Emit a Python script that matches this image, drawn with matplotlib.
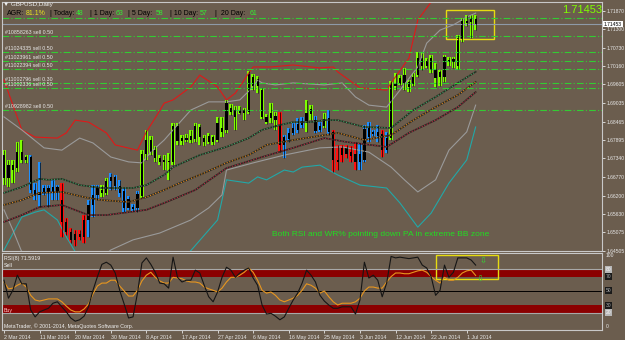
import numpy as np
import matplotlib
matplotlib.use("Agg")
import matplotlib.pyplot as plt
from matplotlib.patches import Rectangle

plt.rcParams['font.family'] = ['Liberation Sans', 'DejaVu Sans']

BG = '#6B5D4E'

# ---- daily candles GBPUSD, 2 Mar 2014 .. 3 Jul 2014 (bar index 0..106)
opens = [1.6744, 1.6674, 1.6713, 1.6704, 1.6753, 1.6729, 1.6738, 1.6637, 1.6622, 1.6631,
         1.6643, 1.6631, 1.6646, 1.6606, 1.6539, 1.6508, 1.6484, 1.6502, 1.6493, 1.6545,
         1.6591, 1.6622, 1.6637, 1.6628, 1.6664, 1.6677, 1.6649, 1.6634, 1.6582, 1.6579,
         1.6582, 1.6618, 1.6747, 1.6790, 1.6759, 1.6735, 1.6723, 1.6726, 1.6723, 1.6833,
         1.6787, 1.6796, 1.6790, 1.6793, 1.6830, 1.6796, 1.6784, 1.6799, 1.6790, 1.6827,
         1.6821, 1.6888, 1.6882, 1.6873, 1.6882, 1.6876, 1.6983, 1.6956, 1.6943, 1.6861,
         1.6858, 1.6864, 1.6836, 1.6775, 1.6793, 1.6812, 1.6821, 1.6836, 1.6848, 1.6870,
         1.6851, 1.6821, 1.6833, 1.6858, 1.6815, 1.6729, 1.6744, 1.6766, 1.6753, 1.6747,
         1.6723, 1.6729, 1.6830, 1.6808, 1.6815, 1.6808, 1.6759, 1.6796, 1.6965, 1.6962,
         1.6989, 1.6968, 1.6962, 1.6989, 1.7041, 1.7017, 1.7041, 1.7008, 1.6983, 1.6983,
         1.7035, 1.7029, 1.7017, 1.7097, 1.7155, 1.7152, 1.7161]
highs = [1.6759, 1.6729, 1.6729, 1.6784, 1.6790, 1.6744, 1.6744, 1.6658, 1.6723, 1.6652,
         1.6652, 1.6668, 1.6652, 1.6658, 1.6551, 1.6520, 1.6514, 1.6514, 1.6560, 1.6606,
         1.6652, 1.6652, 1.6652, 1.6674, 1.6689, 1.6683, 1.6668, 1.6643, 1.6618, 1.6594,
         1.6634, 1.6759, 1.6821, 1.6802, 1.6772, 1.6744, 1.6744, 1.6750, 1.6842, 1.6842,
         1.6805, 1.6808, 1.6821, 1.6842, 1.6839, 1.6805, 1.6812, 1.6805, 1.6861, 1.6861,
         1.6913, 1.6900, 1.6894, 1.6894, 1.6888, 1.7002, 1.6992, 1.6986, 1.6950, 1.6870,
         1.6903, 1.6876, 1.6876, 1.6805, 1.6827, 1.6842, 1.6858, 1.6861, 1.6913, 1.6897,
         1.6864, 1.6845, 1.6873, 1.6882, 1.6821, 1.6775, 1.6775, 1.6775, 1.6772, 1.6784,
         1.6781, 1.6836, 1.6845, 1.6821, 1.6836, 1.6821, 1.6815, 1.6971, 1.6995, 1.6989,
         1.7011, 1.6974, 1.6995, 1.7060, 1.7057, 1.7041, 1.7051, 1.7026, 1.7005, 1.7051,
         1.7044, 1.7044, 1.7112, 1.7164, 1.7173, 1.7173, 1.7173]
lows = [1.6652, 1.6646, 1.6658, 1.6692, 1.6720, 1.6720, 1.6628, 1.6606, 1.6585, 1.6622,
        1.6585, 1.6606, 1.6606, 1.6493, 1.6499, 1.6474, 1.6465, 1.6484, 1.6474, 1.6493,
        1.6554, 1.6606, 1.6615, 1.6622, 1.6637, 1.6637, 1.6615, 1.6569, 1.6576, 1.6572,
        1.6569, 1.6612, 1.6729, 1.6744, 1.6723, 1.6713, 1.6698, 1.6668, 1.6713, 1.6775,
        1.6775, 1.6784, 1.6781, 1.6784, 1.6775, 1.6772, 1.6778, 1.6775, 1.6784, 1.6799,
        1.6812, 1.6867, 1.6821, 1.6870, 1.6851, 1.6870, 1.6943, 1.6934, 1.6854, 1.6839,
        1.6842, 1.6821, 1.6753, 1.6735, 1.6784, 1.6805, 1.6812, 1.6827, 1.6815, 1.6851,
        1.6812, 1.6815, 1.6827, 1.6805, 1.6692, 1.6698, 1.6723, 1.6735, 1.6723, 1.6698,
        1.6698, 1.6723, 1.6784, 1.6802, 1.6784, 1.6738, 1.6750, 1.6790, 1.6943, 1.6959,
        1.6943, 1.6937, 1.6956, 1.6983, 1.7005, 1.7011, 1.6995, 1.6953, 1.6956, 1.6968,
        1.7017, 1.7011, 1.7008, 1.7090, 1.7140, 1.7103, 1.7127]
closes = [1.6674, 1.6713, 1.6698, 1.6753, 1.6729, 1.6738, 1.6637, 1.6622, 1.6631, 1.6643,
          1.6631, 1.6646, 1.6631, 1.6539, 1.6508, 1.6484, 1.6502, 1.6493, 1.6545, 1.6591,
          1.6622, 1.6643, 1.6628, 1.6664, 1.6677, 1.6649, 1.6628, 1.6582, 1.6609, 1.6585,
          1.6625, 1.6747, 1.6790, 1.6753, 1.6735, 1.6723, 1.6729, 1.6723, 1.6833, 1.6787,
          1.6796, 1.6790, 1.6802, 1.6833, 1.6799, 1.6784, 1.6802, 1.6784, 1.6842, 1.6815,
          1.6903, 1.6876, 1.6861, 1.6882, 1.6873, 1.6992, 1.6956, 1.6977, 1.6861, 1.6845,
          1.6873, 1.6851, 1.6775, 1.6799, 1.6812, 1.6827, 1.6839, 1.6848, 1.6873, 1.6885,
          1.6818, 1.6833, 1.6854, 1.6815, 1.6729, 1.6723, 1.6766, 1.6747, 1.6741, 1.6723,
          1.6747, 1.6824, 1.6799, 1.6815, 1.6802, 1.6759, 1.6796, 1.6965, 1.6956, 1.6980,
          1.6965, 1.6953, 1.6983, 1.7041, 1.7017, 1.7032, 1.7005, 1.6980, 1.6999, 1.7044,
          1.7029, 1.7038, 1.7103, 1.7155, 1.7149, 1.7161, 1.71453]
bar_colors = ("gggggg" "bbbbbbb" "rrrrrr" "bbb" "gg" "bbbbbbb"
              "ggggggggggggggggggggggggggggggg" "r" "bbbbb" "gg" "bb" "g" "b"
              "rrrrrr" "bbbbb" "r" "b" "gggggggggggggggggggg")

# ---- overlays (bar index, price)
bb_wide_up_i = [0, 4, 7, 12, 14, 16, 19, 23, 25, 30, 32, 34, 36, 38, 42, 44, 48, 50, 52, 55,
                56, 60, 65, 71, 74, 75, 80, 86, 87, 91, 93, 96, 97]
bb_wide_up = [1.6974, 1.6821, 1.6799, 1.6796, 1.6812, 1.6851, 1.6845, 1.6812, 1.6775, 1.6759,
              1.6815, 1.6858, 1.6903, 1.6913, 1.6953, 1.6989, 1.6953, 1.6913, 1.6934, 1.6995,
              1.7014, 1.7014, 1.7020, 1.7011, 1.7014, 1.6999, 1.6950, 1.6943, 1.6965, 1.7041,
              1.7158, 1.7213, 1.7240]
bb_up_i = [0, 4, 9, 13, 17, 20, 24, 28, 31, 33, 36, 38, 42, 46, 50, 53, 56, 57, 58, 61,
           65, 72, 76, 79, 82, 86, 89, 93, 95, 98, 101, 104, 106]
bb_up = [1.6861, 1.6821, 1.6766, 1.6759, 1.6796, 1.6781, 1.6738, 1.6723, 1.6720, 1.6753,
         1.6790, 1.6821, 1.6882, 1.6907, 1.6907, 1.6913, 1.6953, 1.6974, 1.6965, 1.6959,
         1.6965, 1.6959, 1.6965, 1.6922, 1.6897, 1.6891, 1.6943, 1.7014, 1.7087, 1.7127,
         1.7143, 1.7167, 1.7179]
bb_low_i = [0, 2, 4, 8, 15, 20, 24, 29, 35, 42, 46, 49, 50, 56, 63, 71, 76, 82, 87, 90,
            93, 97, 100, 104, 106]
bb_low = [1.6576, 1.6514, 1.6447, 1.6400, 1.6380, 1.6410, 1.6453, 1.6484, 1.6505, 1.6545,
          1.6582, 1.6622, 1.6698, 1.6720, 1.6744, 1.6766, 1.6769, 1.6753, 1.6707, 1.6668,
          1.6631, 1.6668, 1.6759, 1.6815, 1.6897]
bb_wide_low_i = [0, 4, 7, 9, 12, 14, 16, 20, 30, 40, 48, 50, 55, 57, 59, 63, 65, 67, 71, 75,
                 80, 86, 89, 93, 96, 100, 104, 106]
bb_wide_low = [1.6453, 1.6554, 1.6569, 1.6576, 1.6545, 1.6493, 1.6448, 1.6390, 1.6380, 1.6420,
               1.6545, 1.6668, 1.6658, 1.6677, 1.6668, 1.6698, 1.6692, 1.6707, 1.6713, 1.6683,
               1.6652, 1.6643, 1.6597, 1.6523, 1.6566, 1.6658, 1.6729, 1.6830]
ma_fast_i = [0, 4, 8, 10, 13, 17, 22, 25, 29, 32, 36, 38, 44, 50, 55, 58, 62, 65, 69, 72,
             75, 81, 87, 92, 97, 102, 106]
ma_fast = [1.6628, 1.6646, 1.6671, 1.6668, 1.6671, 1.6652, 1.6643, 1.6643, 1.6643, 1.6652,
           1.6683, 1.6707, 1.6744, 1.6769, 1.6796, 1.6821, 1.6836, 1.6845, 1.6845, 1.6851,
           1.6851, 1.6830, 1.6827, 1.6882, 1.6922, 1.6965, 1.6999]
ma_mid_i = [0, 4, 8, 13, 18, 22, 28, 32, 36, 40, 45, 50, 55, 59, 65, 72, 75, 81, 87, 92,
            97, 102, 106]
ma_mid = [1.6591, 1.6606, 1.6628, 1.6631, 1.6615, 1.6606, 1.6600, 1.6615, 1.6637, 1.6661,
          1.6689, 1.6720, 1.6744, 1.6775, 1.6790, 1.6805, 1.6812, 1.6790, 1.6805, 1.6851,
          1.6891, 1.6928, 1.6968]
ma_slow_i = [0, 4, 8, 13, 19, 23, 28, 32, 36, 43, 50, 58, 65, 72, 77, 86, 91, 97, 102, 106]
ma_slow = [1.6539, 1.6560, 1.6585, 1.6591, 1.6560, 1.6560, 1.6569, 1.6576, 1.6597, 1.6637,
           1.6704, 1.6738, 1.6766, 1.6796, 1.6784, 1.6769, 1.6812, 1.6851, 1.6891, 1.6937]

# ---- open sell orders
order_levels = [1.7164, 1.7109, 1.7060, 1.7032, 1.7008, 1.6965, 1.6950, 1.6882]
order_labels = ["", "#10858263 sell 0.50", "#11024335 sell 0.50", "#11023961 sell 0.50",
                "#11022394 sell 0.50", "#11002796 sell 0.30", "#11002336 sell 0.50",
                "#10928982 sell 0.50"]
bid = 1.71453

price_ticks = [1.71870, 1.71300, 1.70730, 1.70160, 1.69605, 1.69035, 1.68465, 1.67895,
               1.67340, 1.66770, 1.66200, 1.65630, 1.65075, 1.64505]

# ---- lower window: WR% (black) and RSI(8) (orange)
wr = [65, 40, 51, 72, 60, 60, 23.6, 14, 21, 23.6, 26, 33, 35, 28, 21, 12.5, 8, 10, 15, 28,
      51, 70, 87, 90, 86, 75, 51, 32, 12.5, 14, 47, 89, 96, 87, 76, 61, 60, 54, 97, 69,
      62.5, 65, 65, 79, 75, 58, 42, 35, 48.6, 69, 83, 79, 69, 75, 79, 82, 68, 58, 30.5, 18,
      19, 15, 10, 14, 26, 37.5, 47, 61, 79, 72, 62.5, 44, 36, 30.5, 26, 26, 28, 28, 28, 18,
      37.5, 90, 68, 72, 65, 42, 61, 98, 96, 97, 96, 95, 96, 97, 86, 82, 70, 44, 51, 86,
      69, 76, 96, 96, 96, 93, 86]
rsi = [62.5, 53, 54, 58, 61, 55.5, 44, 37.5, 36, 37.5, 39, 39, 39, 35, 29, 23.6, 21, 21, 25, 32,
       46, 57, 61, 61, 65, 65, 57, 50, 43, 43, 51, 64, 72, 76, 69, 64, 61, 61, 69, 68,
       67, 64, 62.5, 62.5, 61, 55.5, 53, 51, 48.6, 54, 62.5, 69, 69, 72, 76, 82, 76, 65, 51, 47,
       48.6, 44, 37.5, 35, 37.5, 40, 44, 51, 60, 58, 54, 47, 50, 42, 35, 30.5, 33, 33, 33, 35,
       40, 50, 55.5, 55.5, 54, 54, 62.5, 70, 75, 75, 74, 74, 76, 78, 79, 76, 70, 65, 61, 69,
       65, 65, 69, 75, 78, 79, 71.6]

date_idx = [0, 8, 16, 24, 32, 40, 48, 56, 64, 72, 80, 88, 96, 104]
date_labels = ["2 Mar 2014", "11 Mar 2014", "20 Mar 2014", "30 Mar 2014", "8 Apr 2014",
               "17 Apr 2014", "27 Apr 2014", "6 May 2014", "16 May 2014", "25 May 2014",
               "3 Jun 2014", "12 Jun 2014", "22 Jun 2014", "1 Jul 2014"]

stats_names = ["| Today:", "| 1 Day:", "| 5 Day:", "| 10 Day:", "|  20 Day:"]
stats_vals = ["48", "63", "58", "57", "61"]

fig = plt.figure(figsize=(6.25, 3.4), dpi=100, facecolor=BG)
ax = fig.add_axes([2 / 625, 1 - 251 / 340, 600 / 625, 249 / 340], facecolor=BG)
ax2 = fig.add_axes([2 / 625, 1 - 330 / 340, 600 / 625, 77 / 340], facecolor=BG)

x = np.arange(len(closes))
o = np.array(opens)
h = np.array(highs)
l = np.array(lows)
c = np.array(closes)
cmap = {'g': '#7FFF00', 'b': '#1E90FF', 'r': '#FF1010'}

# bands and averages
ax.plot(bb_wide_up_i, bb_wide_up, color='#E01818', lw=0.8)
ax.plot(bb_wide_low_i, bb_wide_low, color='#22A8A8', lw=0.8)
ax.plot(bb_up_i, bb_up, color='#9A9A9A', lw=0.8)
ax.plot(bb_low_i, bb_low, color='#9A9A9A', lw=0.8)
for xi, yi, col in [(ma_fast_i, ma_fast, '#3FA868'), (ma_mid_i, ma_mid, '#E88A20'),
                    (ma_slow_i, ma_slow, '#C02848')]:
    ax.plot(xi, yi, color='#2A2A22', lw=1.2)
    ax.plot(xi, yi, color=col, lw=0.8, ls=(0, (1, 1.5)))

# order lines
for lev, lab in zip(order_levels, order_labels):
    ax.axhline(lev, color='#33CC33', lw=0.8, ls=(0, (6, 2, 1, 2)))
    if lab:
        ax.text(0.2, lev + 0.0003, lab, color='#E8E8E8', fontsize=3.8, va='bottom', ha='left')
ax.axhline(bid, color='#8E9AA8', lw=0.8)

# candles
ax.bar(x, h - l, bottom=l, width=0.75, color=[cmap[k] for k in bar_colors], linewidth=0)
ax.vlines(x, l, h, color='black', lw=0.5)
ax.bar(x, np.maximum(np.abs(c - o), 0.00012), bottom=np.minimum(o, c), width=0.5,
       color='black', linewidth=0)

ax.add_patch(Rectangle((99.3, 1.7100), 10.8, 0.0089, fill=False, ec='#E6DC10', lw=1))
ax.text(60.2, 1.6499, "Both RSI and WR% pointing down PA in extreme BB zone",
        color='#22DD22', fontsize=6, va='center', ha='left')

ax.set_xlim(-0.45, 134.4)
ax.set_ylim(1.64499, 1.72131)
ax.set_xticks([])
ax.yaxis.tick_right()
ax.set_yticks(price_ticks)
ax.set_yticklabels(["%.5f" % p for p in price_ticks])
ax.tick_params(axis='y', labelsize=3.6, colors='#E8E8E8', length=2, width=0.6, pad=1)
ax.text(1.003, bid, "%.5f" % bid, transform=ax.get_yaxis_transform(), fontsize=3.6,
        color='black', va='center', ha='left',
        bbox=dict(boxstyle='square,pad=0.15', fc='white', ec='none'))

# header texts
ax.text(0.002, 0.988, "\u25bc GBPUSD,Daily", transform=ax.transAxes, fontsize=4.5,
        color='#F0F0F0', va='center', ha='left')
ax.text(0.0083, 0.952, "AGR:", transform=ax.transAxes, fontsize=5, color='black', va='center')
ax.text(0.04, 0.952, "81.1%", transform=ax.transAxes, fontsize=5, color='#E8E020', va='center')
name_x = [0.08, 0.1467, 0.21, 0.28, 0.355]
val_x = [0.123, 0.19, 0.2567, 0.33, 0.4133]
for nx, vx, nm, vl in zip(name_x, val_x, stats_names, stats_vals):
    ax.text(nx, 0.952, nm, transform=ax.transAxes, fontsize=5, color='black', va='center')
    ax.text(vx, 0.952, vl, transform=ax.transAxes, fontsize=5, color='#33EE33', va='center')
ax.text(0.933, 0.968, "%.5f" % bid, transform=ax.transAxes, fontsize=8, color='#7FFF00',
        va='center', ha='left')

# lower window
ax2.axhspan(70, 80, color='#8B0000', lw=0)
ax2.axhspan(20, 30, color='#8B0000', lw=0)
ax2.axhline(80, color='#A8A8A8', lw=0.8)
ax2.axhline(20, color='#A8A8A8', lw=0.8)
ax2.axhline(50, color='black', lw=0.7)
ax2.plot(x, rsi, color='#E8961E', lw=0.8)
ax2.plot(x, wr, color='#151515', lw=0.8)
ax2.add_patch(Rectangle((97.1, 66.7), 13.9, 33.3, fill=False, ec='#E6DC10', lw=1))
ax2.text(107.6, 92, "\u21e9", color='#33DD33', fontsize=6, ha='center', va='center',
         family='DejaVu Sans')
ax2.text(107.0, 67, "\u21e9", color='#33DD33', fontsize=6, ha='center', va='center',
         family='DejaVu Sans')
ax2.text(0.003, 0.935, "RSI(8) 71.5919", transform=ax2.transAxes, fontsize=3.8,
         color='#F0F0F0', va='center')
ax2.text(0.003, 0.84, "Sell", transform=ax2.transAxes, fontsize=3.8, color='#F0F0F0', va='center')
ax2.text(0.003, 0.247, "Buy", transform=ax2.transAxes, fontsize=3.8, color='#FFC8C8', va='center')
ax2.text(0.003, 0.052, "MetaTrader, \u00a9 2001-2014, MetaQuotes Software Corp.",
         transform=ax2.transAxes, fontsize=3.8, color='#F0F0F0', va='center')

ax2.set_xlim(-0.45, 134.4)
ax2.set_ylim(-4.2, 102.8)
ax2.set_yticks([])
yt = ax2.get_yaxis_transform()
for lv, style in [(100, None), (80, 'gray'), (70, 'dark'), (50, 'dark'), (30, 'dark'),
                  (20, 'gray'), (0, None)]:
    kw = {}
    if style == 'gray':
        kw['bbox'] = dict(boxstyle='square,pad=0.2', fc='#B8B8B8', ec='none')
        tc = '#F8F8F8'
    elif style == 'dark':
        kw['bbox'] = dict(boxstyle='square,pad=0.2', fc='#1A1A1A', ec='none')
        tc = '#B0B0B0'
    else:
        tc = '#E8E8E8'
    ax2.text(1.006, lv, str(lv), transform=yt, fontsize=3.6, color=tc, va='center',
             ha='left', **kw)
ax2.set_xticks(date_idx)
ax2.set_xticklabels(date_labels)
ax2.tick_params(axis='x', labelsize=3.8, colors='#E8E8E8', length=2, width=0.6, pad=1.5)
for lab in ax2.get_xticklabels():
    lab.set_ha('left')

for a in (ax, ax2):
    for s in a.spines.values():
        s.set_color('#C8C8C8')
        s.set_linewidth(0.8)

fig.savefig("out.png", dpi=100, facecolor=BG)
